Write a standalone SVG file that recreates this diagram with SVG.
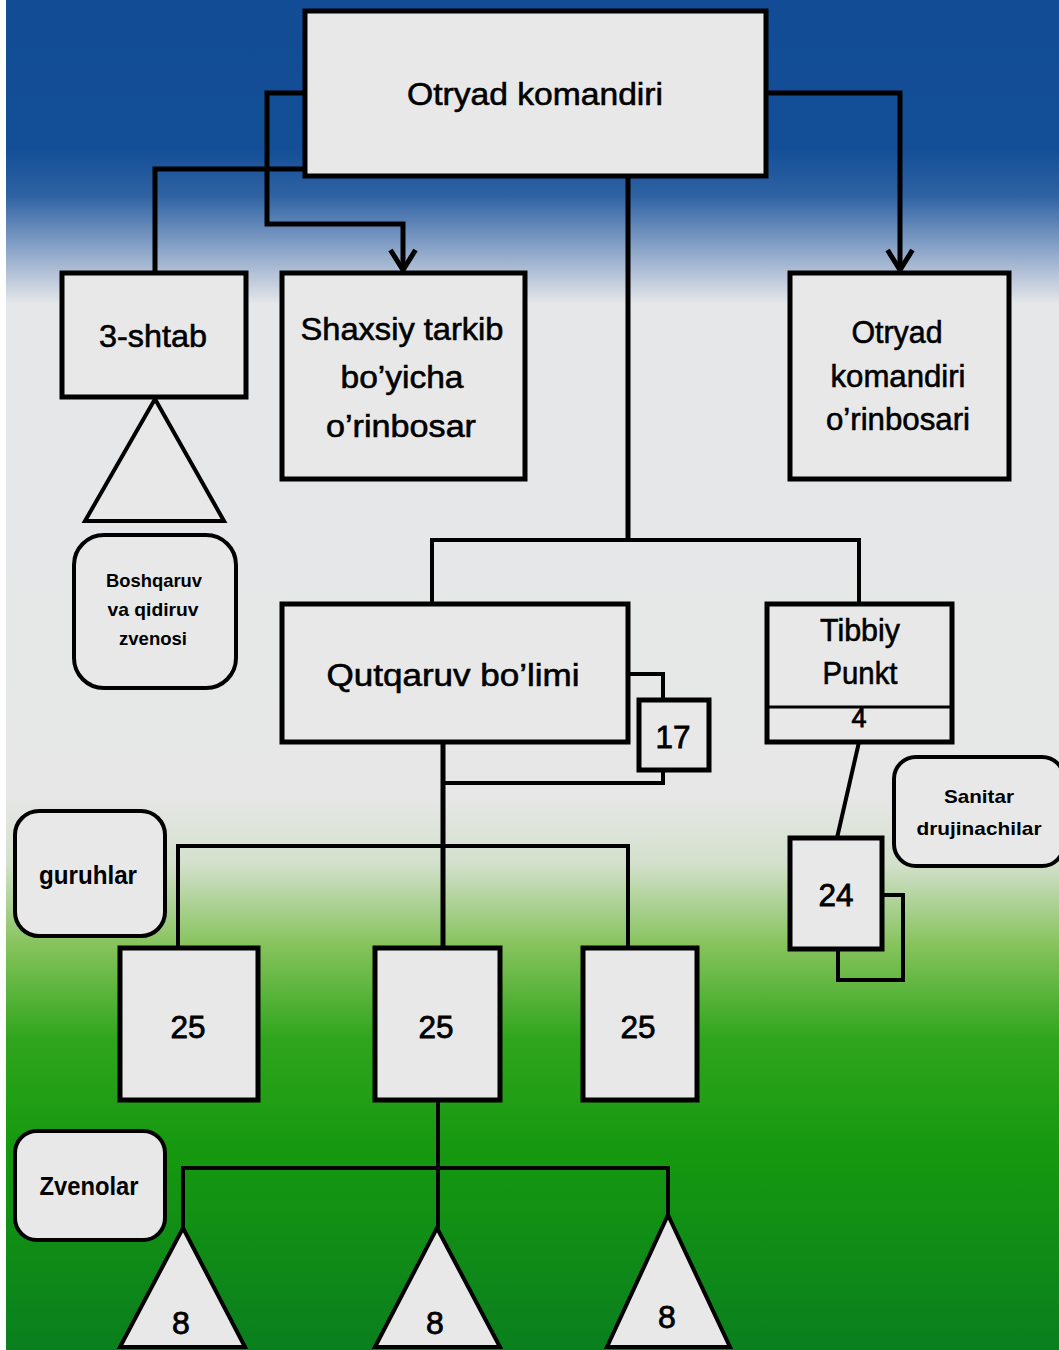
<svg xmlns="http://www.w3.org/2000/svg" width="1059" height="1350" viewBox="0 0 1059 1350">
<defs>
<linearGradient id="bg" x1="0" y1="0" x2="0" y2="1350" gradientUnits="userSpaceOnUse">
<stop offset="0" stop-color="#114c94"/>
<stop offset="0.11" stop-color="#134f97"/>
<stop offset="0.145" stop-color="#2f62a3"/>
<stop offset="0.185" stop-color="#8ba5c9"/>
<stop offset="0.225" stop-color="#e6e7e9"/>
<stop offset="0.59" stop-color="#e7e7e7"/>
<stop offset="0.64" stop-color="#d3e0cc"/>
<stop offset="0.70" stop-color="#86c35c"/>
<stop offset="0.77" stop-color="#2fa51c"/>
<stop offset="0.85" stop-color="#16990f"/>
<stop offset="1" stop-color="#0a7f1e"/>
</linearGradient>
<marker id="arr" markerUnits="userSpaceOnUse" markerWidth="30" markerHeight="30" refX="20" refY="12" orient="auto" viewBox="0 0 24 24">
<path d="M4,2 L20,12 L4,22" fill="none" stroke="#000" stroke-width="4"/>
</marker>
</defs>
<style>
.box{fill:#e8e8e8;stroke:#000;stroke-width:5}
.rbox{fill:#e8e8e8;stroke:#000;stroke-width:4}
.ln{fill:none;stroke:#000;stroke-width:5}
.ln4{fill:none;stroke:#000;stroke-width:4}
.t{font-family:"Liberation Sans",Arial,sans-serif;fill:#000;text-anchor:middle}
.big{font-size:32px;stroke:#000;stroke-width:0.6}
.num{font-size:32px;stroke:#000;stroke-width:0.8}
.sm{font-size:19px;font-weight:bold}
.md{font-size:25px;font-weight:bold}
</style>
<rect x="0" y="0" width="1059" height="1350" fill="url(#bg)"/>
<rect x="0" y="0" width="6" height="1350" fill="#ffffff"/>

<g id="connectors">
<path class="ln" d="M305,93 H267 V224 H403 V270" marker-end="url(#arr)"/>
<path class="ln" d="M305,169 H155 V273"/>
<path class="ln" d="M766,93 H900 V270" marker-end="url(#arr)"/>
<path class="ln" d="M628,176 V540"/>
<path class="ln4" d="M432,604 V540 H859 V604"/>
<path class="ln4" d="M628,674 H663 V700"/>
<path class="ln4" d="M663,770 V783 H443"/>
<path class="ln" d="M443,742 V948"/>
<path class="ln4" d="M178,948 V846 H628 V948"/>
<path class="ln4" d="M859,742 L837,838"/>
<path class="ln4" d="M438,1100 V1228"/>
<path class="ln4" d="M183,1228 V1168 H668 V1215"/>
</g>

<g id="n-otryad-komandiri">
<rect class="box" x="305" y="11" width="461" height="165"/>
<text class="t big" x="535" y="105" textLength="256" lengthAdjust="spacingAndGlyphs">Otryad komandiri</text>
</g>

<g id="n-3-shtab">
<rect class="box" x="62" y="273" width="184" height="124"/>
<text class="t big" x="153" y="347" textLength="108" lengthAdjust="spacingAndGlyphs">3-shtab</text>
</g>

<g id="n-triangle-shtab">
<polygon class="box" points="155,399 224,521 85,521" style="stroke-width:4"/>
</g>

<g id="n-boshqaruv">
<rect class="rbox" x="74" y="535" width="162" height="153" rx="30"/>
<text class="t sm" x="154" y="587" textLength="96" lengthAdjust="spacingAndGlyphs">Boshqaruv</text>
<text class="t sm" x="153" y="616" textLength="91" lengthAdjust="spacingAndGlyphs">va qidiruv</text>
<text class="t sm" x="153" y="645" textLength="68" lengthAdjust="spacingAndGlyphs">zvenosi</text>
</g>

<g id="n-shaxsiy">
<rect class="box" x="282" y="273" width="243" height="206"/>
<text class="t big" x="402" y="340" textLength="203" lengthAdjust="spacingAndGlyphs">Shaxsiy tarkib</text>
<text class="t big" x="402" y="388" textLength="123" lengthAdjust="spacingAndGlyphs">bo’yicha</text>
<text class="t big" x="401" y="437" textLength="150" lengthAdjust="spacingAndGlyphs">o’rinbosar</text>
</g>

<g id="n-orinbosari">
<rect class="box" x="790" y="273" width="219" height="206"/>
<text class="t big" x="897" y="343" textLength="91" lengthAdjust="spacingAndGlyphs">Otryad</text>
<text class="t big" x="898" y="387" textLength="135" lengthAdjust="spacingAndGlyphs">komandiri</text>
<text class="t big" x="898" y="430" textLength="144" lengthAdjust="spacingAndGlyphs">o’rinbosari</text>
</g>

<g id="n-qutqaruv">
<rect class="box" x="282" y="604" width="346" height="138"/>
<text class="t big" x="453" y="686" textLength="253" lengthAdjust="spacingAndGlyphs">Qutqaruv bo’limi</text>
</g>

<g id="n-17">
<rect class="box" x="639" y="700" width="70" height="70"/>
<text class="t num" x="673" y="748" textLength="35" lengthAdjust="spacingAndGlyphs">17</text>
</g>

<g id="n-tibbiy">
<rect class="box" x="767" y="604" width="185" height="138"/>
<line x1="767" y1="707" x2="952" y2="707" stroke="#000" stroke-width="3"/>
<text class="t big" x="860" y="641" textLength="80" lengthAdjust="spacingAndGlyphs">Tibbiy</text>
<text class="t big" x="860" y="684" textLength="75" lengthAdjust="spacingAndGlyphs">Punkt</text>
<text class="t num" x="859" y="727" style="font-size:27px">4</text>
</g>

<g id="n-sanitar">
<rect class="rbox" x="894" y="757" width="170" height="109" rx="22"/>
<text class="t sm" x="979" y="803" textLength="70" lengthAdjust="spacingAndGlyphs">Sanitar</text>
<text class="t sm" x="979" y="835" textLength="125" lengthAdjust="spacingAndGlyphs">drujinachilar</text>
</g>

<g id="n-24">
<rect x="838" y="895" width="65" height="85" fill="none" stroke="#000" stroke-width="4"/>
<rect class="box" x="790" y="838" width="92" height="111"/>
<text class="t num" x="836" y="906" textLength="35" lengthAdjust="spacingAndGlyphs">24</text>
</g>

<g id="n-guruhlar">
<rect class="rbox" x="15" y="811" width="150" height="125" rx="24"/>
<text class="t md" x="88" y="884" textLength="98" lengthAdjust="spacingAndGlyphs">guruhlar</text>
</g>

<g id="n-25a">
<rect class="box" x="120" y="948" width="138" height="152"/>
<text class="t num" x="188" y="1038" textLength="35" lengthAdjust="spacingAndGlyphs">25</text>
</g>
<g id="n-25b">
<rect class="box" x="375" y="948" width="125" height="152"/>
<text class="t num" x="436" y="1038" textLength="35" lengthAdjust="spacingAndGlyphs">25</text>
</g>
<g id="n-25c">
<rect class="box" x="583" y="948" width="114" height="152"/>
<text class="t num" x="638" y="1038" textLength="35" lengthAdjust="spacingAndGlyphs">25</text>
</g>

<g id="n-zvenolar">
<rect class="rbox" x="15" y="1131" width="150" height="109" rx="22"/>
<text class="t md" x="89" y="1195" textLength="99" lengthAdjust="spacingAndGlyphs">Zvenolar</text>
</g>

<g id="n-8a">
<polygon class="box" points="183,1228 245,1347 120,1347" style="stroke-width:4"/>
<text class="t num" x="181" y="1334">8</text>
</g>
<g id="n-8b">
<polygon class="box" points="437,1228 500,1347 375,1347" style="stroke-width:4"/>
<text class="t num" x="435" y="1334">8</text>
</g>
<g id="n-8c">
<polygon class="box" points="668,1215 730,1347 607,1347" style="stroke-width:4"/>
<text class="t num" x="667" y="1328">8</text>
</g>
</svg>
